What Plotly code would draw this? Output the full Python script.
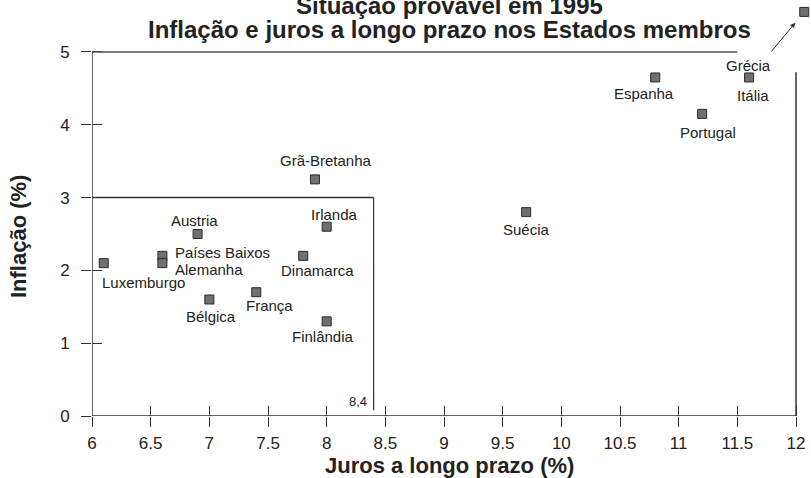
import plotly.graph_objects as go

# Situação provável em 1995 (leitura do gráfico)
paises = ["Luxemburgo", "Países Baixos", "Alemanha", "Austria", "Bélgica", "França",
          "Dinamarca", "Irlanda", "Finlândia", "Grã-Bretanha", "Suécia", "Espanha",
          "Portugal", "Itália", "Grécia"]
juros = [6.1, 6.6, 6.6, 6.9, 7.0, 7.4, 7.8, 8.0, 8.0, 7.9, 9.7, 10.8, 11.2, 11.6, 12.07]
inflacao = [2.1, 2.2, 2.1, 2.5, 1.6, 1.7, 2.2, 2.6, 1.3, 3.25, 2.8, 4.65, 4.15, 4.65, 5.55]

x_ticks = [6, 6.5, 7, 7.5, 8, 8.5, 9, 9.5, 10, 10.5, 11, 11.5, 12]
y_ticks = [0, 1, 2, 3, 4, 5]

# limites de referência desenhados no gráfico
limite_juros = 8.4
limite_inflacao = 3

# deslocamento dos rótulos (px): xshift, yshift, xanchor
rotulos = {
    "Luxemburgo": (40, -19, "center"),
    "Países Baixos": (11, 3, "left"),
    "Alemanha": (11, -6, "left"),
    "Austria": (-3, 13, "center"),
    "Bélgica": (2, -17, "center"),
    "França": (13, -13, "center"),
    "Dinamarca": (14, -15, "center"),
    "Irlanda": (8, 12, "center"),
    "Finlândia": (-4, -15, "center"),
    "Grã-Bretanha": (11, 19, "center"),
    "Suécia": (0, -17, "center"),
    "Espanha": (-11, -16, "center"),
    "Portugal": (6, -19, "center"),
    "Itália": (4, -18, "center"),
    "Grécia": (-56, -54, "center"),
}

FONT = "Liberation Sans, Arial, sans-serif"
INK = "#222222"
X_RANGE = [6, 12.085]
Y_RANGE = [0, 5.604]

fig = go.Figure()
fig.add_trace(
    go.Scatter(
        x=juros,
        y=inflacao,
        mode="markers",
        marker=dict(symbol="square", size=9, color="#707070",
                    line=dict(color="#2a2a2a", width=1)),
        cliponaxis=False,
        showlegend=False,
        hoverinfo="text",
        text=paises,
    )
)
# eixo auxiliar para os traços internos dos ticks
fig.add_trace(go.Scatter(x=[None], y=[None], xaxis="x2", yaxis="y2", showlegend=False))

for nome, xv, yv in zip(paises, juros, inflacao):
    dx, dy, anc = rotulos[nome]
    fig.add_annotation(x=xv, y=yv, text=nome, showarrow=False, xshift=dx, yshift=dy,
                       xanchor=anc, font=dict(family=FONT, size=15, color=INK))

# seta para a Grécia (fora de escala)
fig.add_annotation(x=juros[-1], y=inflacao[-1], text="", showarrow=True, ax=-34, ay=41,
                   standoff=14, arrowhead=2, arrowsize=1, arrowwidth=1, arrowcolor="#333")

fig.add_annotation(x=limite_juros, y=0.2, text="8,4", showarrow=False, xshift=-16,
                   font=dict(family=FONT, size=13, color=INK))

line = dict(color="#333333", width=1.5)
# eixos
fig.add_shape(type="line", x0=6, x1=12, y0=0, y1=0, line=line)
fig.add_shape(type="line", x0=6, x1=6, y0=0, y1=5, line=line)
# moldura externa
fig.add_shape(type="line", x0=6, x1=11.5, y0=5, y1=5, line=dict(color="#555", width=1.5))
fig.add_shape(type="line", x0=12, x1=12, y0=-0.1, y1=4.72, line=line)
# moldura interna
fig.add_shape(type="line", x0=6, x1=limite_juros, y0=limite_inflacao, y1=limite_inflacao, line=line)
fig.add_shape(type="line", x0=limite_juros, x1=limite_juros, y0=0.08, y1=limite_inflacao,
              line=dict(color="#333333", width=1.2))

# títulos
titulo = dict(xref="paper", yref="paper", showarrow=False, xanchor="center", yanchor="middle")
fig.add_annotation(x=0.5, y=1.005, text="<b>Situação provável em 1995</b>",
                   font=dict(family=FONT, size=24, color=INK), **titulo)
fig.add_annotation(x=0.5, y=0.9485, text="<b>Inflação e juros a longo prazo nos Estados membros</b>",
                   font=dict(family=FONT, size=24, color=INK), **titulo)
fig.add_annotation(x=0.5, y=-0.1225, text="<b>Juros a longo prazo (%)</b>",
                   font=dict(family=FONT, size=22, color=INK), **titulo)
fig.add_annotation(x=-0.1036, y=0.4387, text="<b>Inflação (%)</b>", textangle=-90,
                   font=dict(family=FONT, size=22, color=INK), **titulo)

axis_common = dict(showgrid=False, zeroline=False, showline=False, ticklen=10, tickwidth=1.2,
                   tickcolor="#333333", fixedrange=True, automargin=False)
fig.update_layout(
    width=811,
    height=478,
    margin=dict(l=92, r=5, t=8, b=62, autoexpand=False),
    paper_bgcolor="white",
    plot_bgcolor="white",
    font=dict(family=FONT, size=17, color=INK),
    xaxis=dict(range=X_RANGE, tickvals=x_ticks, ticktext=[f"{v:g}" for v in x_ticks],
               ticks="outside", ticklabelstandoff=2, ticklabeloverflow="allow", **axis_common),
    yaxis=dict(range=Y_RANGE, tickvals=y_ticks, ticks="outside", ticklabelstandoff=8,
               ticklabeloverflow="allow", **axis_common),
    xaxis2=dict(range=X_RANGE, overlaying="x", anchor="y2", tickvals=x_ticks, ticks="inside",
                showticklabels=False, **axis_common),
    yaxis2=dict(range=Y_RANGE, overlaying="y", anchor="x2", tickvals=y_ticks, ticks="inside",
                showticklabels=False, **axis_common),
)

# a página tem margem padrão de 8px; tirar para o gráfico ocupar a janela toda
fig.write_html("out.html", config={"displayModeBar": False},
               post_script="document.body.style.margin='0';document.body.style.overflow='hidden';")
